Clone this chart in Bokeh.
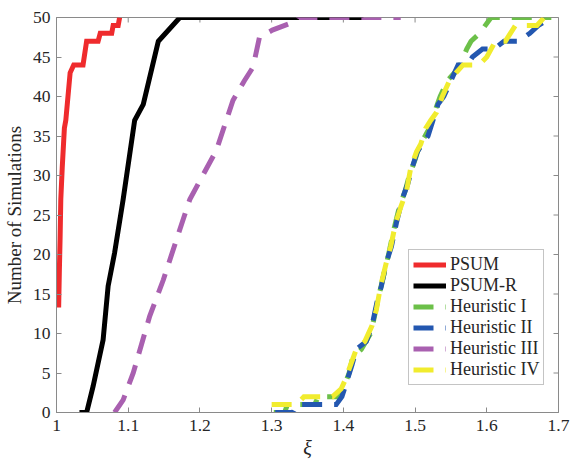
import math
from bokeh.plotting import figure
from bokeh.models import Range1d, FixedTicker, Legend, LegendItem
from bokeh.embed import file_html
from bokeh.resources import INLINE

# ---- data ----
x_ticks = [1.0, 1.1, 1.2, 1.3, 1.4, 1.5, 1.6, 1.7]
x_tick_labels = ["1", "1.1", "1.2", "1.3", "1.4", "1.5", "1.6", "1.7"]
y_ticks = [0, 5, 10, 15, 20, 25, 30, 35, 40, 45, 50]

psum_x = [1.003, 1.004, 1.005, 1.006, 1.008, 1.011, 1.013, 1.016, 1.019, 1.024, 1.037,
          1.042, 1.058, 1.061, 1.077, 1.079, 1.086, 1.088]
psum_y = [13.3, 18, 22, 27, 31, 36, 37, 40, 43, 44, 44, 47, 47, 48, 48, 49, 49, 50]

psumr_x = [1.032, 1.042, 1.051, 1.065, 1.072, 1.081, 1.093, 1.109, 1.121, 1.142, 1.172, 1.428]
psumr_y = [0, 0, 3.3, 9.2, 16, 20.2, 27, 37, 39, 47, 50, 50]

h1_x = [1.303, 1.318, 1.322, 1.360, 1.365, 1.378, 1.395, 1.400, 1.408, 1.413, 1.425, 1.438,
        1.443, 1.450, 1.458, 1.463, 1.470, 1.478, 1.486, 1.492, 1.500, 1.507, 1.514, 1.520,
        1.527, 1.535, 1.545, 1.555, 1.563, 1.572, 1.578, 1.590, 1.598, 1.606, 1.690]
h1_y = [0, 0, 1, 1, 2, 2, 2, 3, 5, 7, 8, 10, 12, 15, 18, 20, 23, 26, 28, 30, 32, 34, 35, 36,
        38, 40, 42, 43, 44, 46, 47, 48, 49, 50, 50]

h2_x = [1.305, 1.330, 1.335, 1.360, 1.390, 1.398, 1.405, 1.412, 1.418, 1.432, 1.440, 1.447,
        1.453, 1.460, 1.467, 1.474, 1.482, 1.490, 1.496, 1.503, 1.510, 1.518, 1.525, 1.532,
        1.540, 1.550, 1.560, 1.573, 1.580, 1.594, 1.610, 1.624, 1.644, 1.660, 1.672, 1.690]
h2_y = [0, 0, 1, 1, 1, 2, 4, 6, 8, 9, 11, 14, 16, 19, 21, 24, 27, 29, 31, 33, 34, 35, 37, 39,
        40, 42, 44, 44, 45, 46, 46, 47, 47, 48, 49, 50]

h3_x = [1.081, 1.093, 1.107, 1.130, 1.149, 1.167, 1.186, 1.223, 1.246, 1.262, 1.274, 1.283,
        1.301, 1.336, 1.338, 1.480]
h3_y = [0, 1.6, 5, 12.2, 16.8, 21.8, 27, 33.2, 39.5, 42, 43.7, 47.5, 48.4, 49.6, 50, 50]

h4_x = [1.300, 1.325, 1.335, 1.345, 1.375, 1.385, 1.397, 1.402, 1.410, 1.418, 1.430, 1.440,
        1.446, 1.452, 1.460, 1.466, 1.473, 1.480, 1.488, 1.494, 1.502, 1.508, 1.515, 1.522,
        1.530, 1.538, 1.548, 1.557, 1.567, 1.589, 1.600, 1.612, 1.626, 1.640, 1.670, 1.680]
h4_y = [1, 1, 1, 2, 2, 2, 3, 4, 6, 8, 9, 11, 13, 16, 19, 21, 24, 26, 28, 31, 33, 34, 36, 37,
        38, 40, 42, 43, 44, 44, 45, 47, 47, 49, 49, 50]

series_names = ["PSUM", "PSUM-R", "Heuristic I", "Heuristic II", "Heuristic III", "Heuristic IV"]

# ---- figure ----
FONT = "Liberation Serif"
AXIS_COLOR = "#8a8a8a"
TEXT_COLOR = "#262626"
X0, X1, Y0, Y1 = 1.0, 1.7, 0, 50

p = figure(width=570, height=461,
           x_range=Range1d(X0, X1), y_range=Range1d(Y0, Y1),
           output_backend="svg", toolbar_location=None,
           min_border_left=54, min_border_top=17, min_border_right=12, min_border_bottom=48)
p.outline_line_color = AXIS_COLOR
p.outline_line_width = 1
p.xgrid.grid_line_color = None
p.ygrid.grid_line_color = None

p.xaxis.ticker = FixedTicker(ticks=x_ticks)
p.yaxis.ticker = FixedTicker(ticks=y_ticks)
p.xaxis.major_label_overrides = {t: l for t, l in zip(x_ticks, x_tick_labels)}

for ax in p.axis:
    ax.axis_line_color = AXIS_COLOR
    ax.major_tick_line_color = AXIS_COLOR
    ax.major_tick_in = 5
    ax.major_tick_out = 0
    ax.minor_tick_line_color = None
    ax.major_label_text_font = FONT
    ax.major_label_text_font_size = "17.5px"
    ax.major_label_text_color = TEXT_COLOR

bx = p.xaxis[0]
bx.major_label_standoff = 7
bx.axis_label = "ξ"
bx.axis_label_text_font = FONT
bx.axis_label_text_font_style = "italic"
bx.axis_label_text_font_size = "20px"
bx.axis_label_text_color = TEXT_COLOR
bx.axis_label_standoff = 3

ly = p.yaxis[0]
ly.major_label_standoff = 6
ly.axis_label = "Number of Simulations"
ly.axis_label_text_font = FONT
ly.axis_label_text_font_style = "normal"
ly.axis_label_text_font_size = "19px"
ly.axis_label_text_color = TEXT_COLOR
ly.axis_label_standoff = 5

# inward ticks on the top and right sides of the box (half of each dash is clipped by the frame)
p.scatter(x_ticks, [Y1] * len(x_ticks), marker="dash", size=10, angle=math.pi / 2,
          line_color=AXIS_COLOR, line_width=1)
p.scatter([X1] * len(y_ticks), y_ticks, marker="dash", size=10,
          line_color=AXIS_COLOR, line_width=1)

W = 5
DASH = "20 12"
r1 = p.line(psum_x, psum_y, line_color="#ef2b2d", line_width=W, line_join="miter")
r2 = p.line(psumr_x, psumr_y, line_color="#000000", line_width=W, line_join="miter")
r3 = p.line(h1_x, h1_y, line_color="#6cc049", line_width=W, line_dash=DASH, line_join="miter")
r4 = p.line(h2_x, h2_y, line_color="#2357b0", line_width=W, line_dash=DASH, line_join="miter")
r5 = p.line(h3_x, h3_y, line_color="#a960b0", line_width=W, line_dash=DASH, line_join="miter")
r6 = p.line(h4_x, h4_y, line_color="#f1ec2e", line_width=W, line_dash=DASH, line_join="miter")

renderers = [r1, r2, r3, r4, r5, r6]
legend = Legend(items=[LegendItem(label=n, renderers=[r]) for n, r in zip(series_names, renderers)],
                location=(352, 27))
legend.border_line_color = AXIS_COLOR
legend.border_line_width = 1
legend.background_fill_color = "white"
legend.background_fill_alpha = 1
legend.label_text_font = FONT
legend.label_text_font_size = "18px"
legend.label_text_color = TEXT_COLOR
legend.glyph_width = 33
legend.glyph_height = 21
legend.label_height = 21
legend.label_standoff = 4
legend.padding = 4
legend.spacing = 0
legend.margin = 0
p.add_layout(legend)

open("out.html", "w").write(file_html(p, INLINE))
